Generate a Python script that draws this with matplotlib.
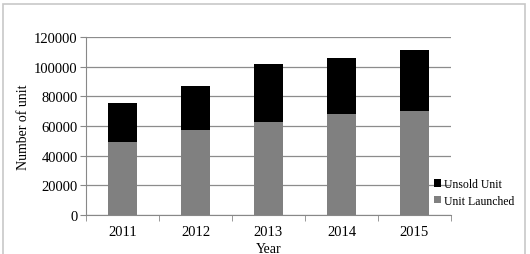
import matplotlib.pyplot as plt
import numpy as np
from matplotlib.patches import Rectangle

years = ['2011', '2012', '2013', '2014', '2015']
unit_launched = [49500, 57100, 62500, 68300, 70300]
unsold_unit = [26000, 29600, 39300, 37300, 40700]

plt.rcParams['font.family'] = ['Liberation Serif', 'DejaVu Serif']

fig = plt.figure(figsize=(5.3, 2.55), dpi=100)
ax = fig.add_axes([86 / 530, 1 - 216 / 255, 365 / 530, 178 / 255])

x = np.arange(len(years))
ax.bar(x, unit_launched, width=0.4, color='#808080', label='Unit Launched', zorder=3)
ax.bar(x, unsold_unit, width=0.4, bottom=unit_launched, color='#000000', label='Unsold Unit', zorder=3)

ax.set_xlim(-0.5, len(years) - 0.5)
ax.set_ylim(0, 120000)
ax.set_yticks(np.arange(0, 120001, 20000))
ax.set_xticks(x)
ax.set_xticklabels(years)
ax.set_xticks(np.arange(-0.5, len(years)), minor=True)
ax.tick_params(axis='x', which='major', length=0, labelsize=10.5, pad=7)
ax.tick_params(axis='x', which='minor', length=4, color='#888888', direction='out')
ax.tick_params(axis='y', length=4, color='#888888', labelsize=10.5, pad=2)

ax.yaxis.grid(True, color='#8c8c8c', linewidth=0.9, zorder=0)
for s in ['top', 'right']:
    ax.spines[s].set_visible(False)
for s in ['left', 'bottom']:
    ax.spines[s].set_color('#888888')

ax.set_xlabel('Year', fontsize=10, labelpad=3)
ax.set_ylabel('Number of unit', fontsize=10, labelpad=3)

handles, labels = ax.get_legend_handles_labels()
ax.legend(handles[::-1], labels[::-1], loc='lower left', bbox_to_anchor=(0.94, 0.02),
          frameon=False, fontsize=8.5, handlelength=0.6, handleheight=0.6,
          handletextpad=0.3, labelspacing=0.4, borderaxespad=0)

# outer frame (bottom edge lies below the image, as in the reference)
fig.patches.append(Rectangle((3 / 530, -5 / 255), 522 / 530, 255 / 255, transform=fig.transFigure,
                             fill=False, edgecolor='#c8c8c8', linewidth=1.2))

fig.savefig('out.png', dpi=100)
